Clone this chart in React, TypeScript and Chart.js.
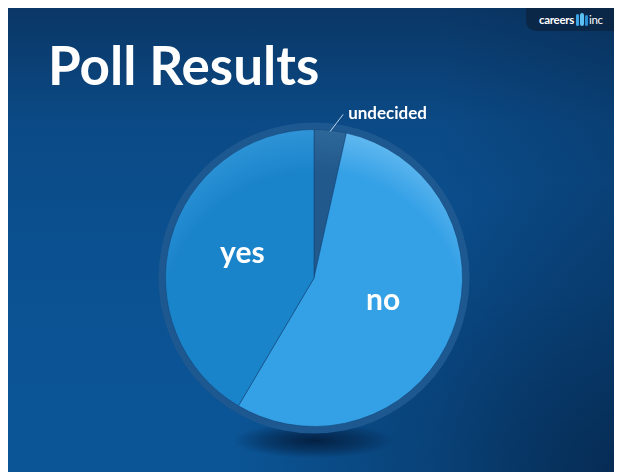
import React, { useEffect, useRef } from "react";
import { Chart, registerables } from "chart.js";

Chart.register(...registerables);

const categories = ["undecided", "no", "yes"];
const values = [3.5, 55, 41.5];
const baseColors = ["#22598c", "#34a0e6", "#1a84cb"];
const rimColors = ["#2d6799", "#62b9f0", "#2f94d7"];
const titleText = "Poll Results";

const W = 616;
const H = 464;

const ringPlugin = {
  id: "ringPlugin",
  beforeDatasetsDraw(chart: any) {
    const arc = chart.getDatasetMeta(0).data[0];
    if (!arc) return;
    const { x, y, outerRadius } = arc;
    const ctx = chart.ctx;
    ctx.save();
    ctx.translate(x, y + outerRadius + 14);
    ctx.scale(1, 0.22);
    const g = ctx.createRadialGradient(0, 0, 0, 0, 0, 80);
    g.addColorStop(0, "rgba(3,25,55,0.85)");
    g.addColorStop(0.6, "rgba(3,25,55,0.4)");
    g.addColorStop(1, "rgba(3,25,55,0)");
    ctx.fillStyle = g;
    ctx.beginPath();
    ctx.arc(0, 0, 80, 0, Math.PI * 2);
    ctx.fill();
    ctx.restore();
    ctx.save();
    ctx.beginPath();
    ctx.arc(x, y, outerRadius + 7, 0, Math.PI * 2);
    ctx.fillStyle = "#1d5890";
    ctx.fill();
    ctx.restore();
  },
};

const labelPlugin = {
  id: "labelPlugin",
  afterDatasetsDraw(chart: any) {
    const meta = chart.getDatasetMeta(0);
    const ctx = chart.ctx;
    const total = values.reduce((a, b) => a + b, 0);
    ctx.save();
    ctx.fillStyle = "#ffffff";
    meta.data.forEach((arc: any, i: number) => {
      const mid = (arc.startAngle + arc.endAngle) / 2;
      const share = values[i] / total;
      if (share < 0.1) {
        const sx = arc.x + Math.cos(mid) * (arc.outerRadius - 1);
        const sy = arc.y + Math.sin(mid) * (arc.outerRadius - 1);
        const ex = sx + 13;
        const ey = sy - 17;
        ctx.strokeStyle = "rgba(220,235,250,0.85)";
        ctx.lineWidth = 1;
        ctx.beginPath();
        ctx.moveTo(sx, sy);
        ctx.lineTo(ex, ey);
        ctx.stroke();
        ctx.font = "bold 17px Lato, 'Open Sans', sans-serif";
        ctx.textAlign = "left";
        ctx.textBaseline = "middle";
        ctx.fillText(categories[i], ex + 5, ey - 1);
      } else {
        const d = arc.outerRadius * 0.5;
        const lx = arc.x + Math.cos(mid) * d;
        const ly = arc.y + Math.sin(mid) * d - 5;
        ctx.font = "bold 30px Lato, 'Open Sans', sans-serif";
        ctx.textAlign = "center";
        ctx.textBaseline = "middle";
        ctx.fillText(categories[i], lx, ly);
      }
    });
    ctx.restore();
  },
};

function sliceColor(c: any) {
  const i = c.dataIndex;
  const chart = c.chart;
  const area = chart.chartArea;
  if (!area) return baseColors[i];
  const cx = (area.left + area.right) / 2;
  const cy = (area.top + area.bottom) / 2;
  const r = Math.min(area.right - area.left, area.bottom - area.top) / 2;
  const g = chart.ctx.createRadialGradient(cx, cy + r * 0.3, 0, cx, cy + r * 0.3, r * 1.3);
  g.addColorStop(0, baseColors[i]);
  g.addColorStop(0.78, baseColors[i]);
  g.addColorStop(1, rimColors[i]);
  return g;
}

function PollChart() {
  const ref = useRef<HTMLCanvasElement | null>(null);
  useEffect(() => {
    if (!ref.current) return;
    const chart = new Chart(ref.current, {
      type: "pie",
      data: {
        labels: categories,
        datasets: [
          {
            data: values,
            backgroundColor: sliceColor as any,
            borderColor: "rgba(18,70,120,0.55)",
            borderWidth: 1,
          },
        ],
      },
      options: {
        responsive: false,
        animation: false,
        events: [],
        layout: { padding: { left: 159, right: 159, top: 121, bottom: 45 } },
        plugins: {
          legend: { display: false },
          tooltip: { enabled: false },
          title: { display: false },
        },
      },
      plugins: [ringPlugin, labelPlugin],
    });
    return () => chart.destroy();
  }, []);
  return (
    <canvas
      ref={ref}
      width={W}
      height={H}
      style={{ position: "absolute", left: 0, top: 0, width: W, height: H }}
    />
  );
}

export default function App() {
  return (
    <div
      style={{
        position: "relative",
        width: W,
        height: H,
        marginLeft: -2,
        overflow: "hidden",
        background:
          "radial-gradient(ellipse at 100% 100%, rgba(4,28,60,0.65) 0%, rgba(4,28,60,0) 45%), linear-gradient(90deg, rgba(0,0,0,0) 70%, rgba(4,30,60,0.25) 100%), linear-gradient(180deg, #0a3766 0%, #0b4a86 25%, #0b5293 60%, #0b5596 100%)",
        fontFamily: "Lato, 'Open Sans', sans-serif",
      }}
    >
      <PollChart />
      <div
        style={{
          position: "absolute",
          left: 42,
          top: 31,
          fontSize: 53,
          lineHeight: "52px",
          fontWeight: 700,
          color: "#ffffff",
          whiteSpace: "nowrap",
          letterSpacing: 0,
        }}
      >
        {titleText}
      </div>
      <div
        style={{
          position: "absolute",
          right: 0,
          top: 0,
          width: 96,
          height: 23,
          background: "#0b2747",
          borderBottomLeftRadius: 10,
          display: "flex",
          alignItems: "center",
          paddingLeft: 13,
          boxSizing: "border-box",
          color: "#ffffff",
          fontSize: 11.5,
          letterSpacing: -0.3,
          whiteSpace: "nowrap",
        }}
      >
        <span style={{ fontWeight: 700 }}>careers</span>
        <span style={{ display: "inline-flex", alignItems: "flex-end", height: 13, margin: "0 1px 0 2px" }}>
          <span style={{ width: 3, height: 12, background: "#3aa6e8", borderRadius: 2, marginRight: 1 }} />
          <span style={{ width: 4, height: 13, background: "#5cc0f2", borderRadius: 2, marginRight: 1 }} />
          <span style={{ width: 3, height: 11, background: "#2c8fd3", borderRadius: 2 }} />
        </span>
        <span style={{ fontWeight: 400 }}>inc</span>
      </div>
    </div>
  );
}
